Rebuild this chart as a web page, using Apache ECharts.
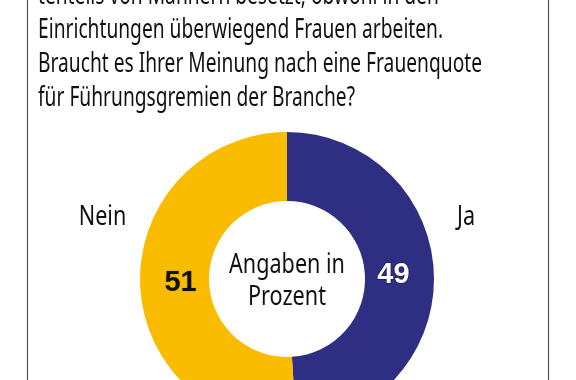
<!DOCTYPE html>
<html><head><meta charset="utf-8">
<script src="https://cdn.jsdelivr.net/npm/echarts@6/dist/echarts.min.js"></script>
<style>html,body{margin:0;padding:0;background:#fff}#c{width:576px;height:380px}</style>
</head><body><div id="c"></div>
<script>
const categories = ['Ja', 'Nein'];
const values = [49, 51];
const colors = ['#2E2E82', '#F9BC00'];
const titleLines = [
  'tenteils von Männern besetzt, obwohl in den',
  'Einrichtungen überwiegend Frauen arbeiten.',
  'Braucht es Ihrer Meinung nach eine Frauenquote',
  'für Führungsgremien der Branche?'
];
const centerText = 'Angaben in\nProzent';

const FONT = '"Noto Sans", "Open Sans", sans-serif';
const FS = 27;
const cv = document.createElement('canvas').getContext('2d');
cv.font = FS + 'px ' + FONT;
const SX = 444 / cv.measureText(titleLines[2]).width;
const SL = 0.8;

const chart = echarts.init(document.getElementById('c'), null, {renderer: 'canvas'});

const txt = (t, x, y, align, vAlign, sx, lh) => ({
  type: 'text', x: x, y: y, scaleX: sx,
  style: {text: t, font: FS + 'px ' + FONT, fill: '#111', textAlign: align, textVerticalAlign: vAlign, lineHeight: lh}
});

const titleEls = titleLines.map((t, i) => txt(t, 38, 9.5 + i * 34, 'left', 'bottom', SX));

chart.setOption({
  backgroundColor: '#fff',
  animation: false,
  graphic: [
    {type: 'line', shape: {x1: 27.5, y1: 0, x2: 27.5, y2: 380}, style: {stroke: '#555', lineWidth: 1.2}},
    {type: 'line', shape: {x1: 548.5, y1: 0, x2: 548.5, y2: 380}, style: {stroke: '#555', lineWidth: 1.2}},
    ...titleEls,
    txt(categories[1], 102.5, 217, 'center', 'middle', SL),
    txt(categories[0], 466, 217, 'center', 'middle', SL),
    txt(centerText, 287, 281, 'center', 'middle', SL, 32)
  ],
  series: [{
    type: 'pie',
    center: [287, 279],
    radius: [78, 147],
    startAngle: 90,
    clockwise: true,
    silent: true,
    label: {
      show: true, position: 'inside',
      formatter: '{c}',
      fontFamily: '"Liberation Sans", Arial, sans-serif', fontWeight: 'bold', fontSize: 29
    },
    labelLine: {show: false},
    labelLayout: function (p) { return {dx: p.dataIndex === 0 ? -9 : 9}; },
    itemStyle: {borderWidth: 0},
    data: categories.map((c, i) => ({
      name: c, value: values[i],
      itemStyle: {color: colors[i]},
      label: i === 0
        ? {color: '#fff', textBorderColor: '#1a1a5a', textBorderWidth: 1.5}
        : {color: '#111', textBorderColor: '#e0a800', textBorderWidth: 1}
    }))
  }]
});
</script></body></html>
